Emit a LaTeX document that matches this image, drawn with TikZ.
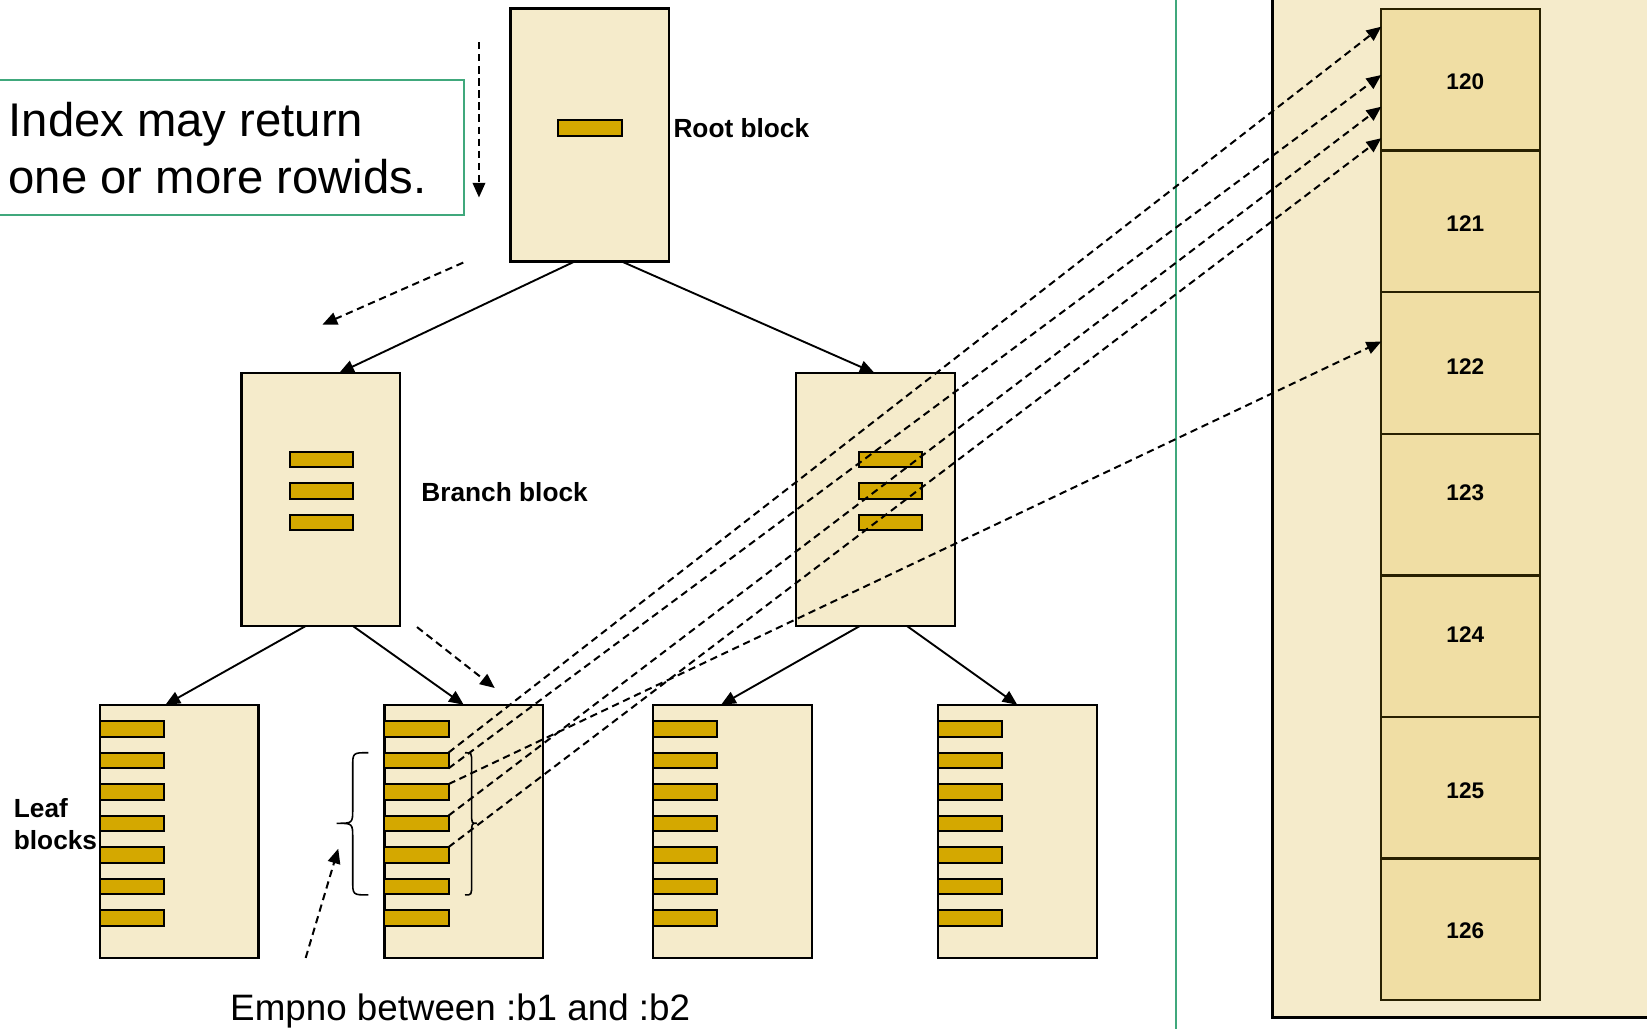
\documentclass[tikz,border=0pt]{standalone}
\usepackage{fontspec}
\setmainfont{Liberation Sans}
\usetikzlibrary{arrows.meta,calc}
\definecolor{cream}{RGB}{245,235,203}
\definecolor{gold}{RGB}{212,168,0}
\definecolor{cellc}{RGB}{240,222,164}
\definecolor{greenl}{RGB}{64,168,124}
\definecolor{celled}{RGB}{40,32,0}
\begin{document}
\begin{tikzpicture}[x=1pt,y=-1pt,
  blk/.style={draw=black, fill=cream, line width=2.1pt, minimum width=151pt, minimum height=241pt, inner sep=0pt, outer sep=0pt, anchor=north west},
  ent/.style={draw=black, fill=gold, line width=1.9pt, minimum width=61pt, minimum height=15pt, inner sep=0pt, outer sep=0pt, anchor=north west},
  cell/.style={draw=celled, fill=cellc, line width=2.2pt, minimum width=151pt, minimum height=134.8pt, inner sep=0pt, outer sep=0pt, anchor=north west},
  num/.style={font=\fontsize{21.5}{24}\selectfont\bfseries, inner sep=0pt},
  lbl/.style={font=\fontsize{25}{30}\selectfont\bfseries, inner sep=0pt, anchor=base west},
  edge/.style={draw=black, line width=1.8pt, -{Triangle[length=14pt,width=12pt]}},
  dsh/.style={draw=black, line width=1.9pt, dash pattern=on 7pt off 4.5pt, -{Triangle[length=14pt,width=12pt]}},
  brc/.style={draw=black, line width=1.5pt}
]
\useasboundingbox (0,0) rectangle (1568,980);
\fill[white] (0,0) rectangle (1568,980);

% note box and divider
\node[draw=greenl, line width=1.8pt, minimum width=446pt, minimum height=129pt, inner sep=0pt, anchor=north west] (note) at (-5,75) {};
\node[inner sep=0pt, anchor=base west, font=\fontsize{45}{54}\selectfont] (notea) at (8,130) {Index may return};
\node[inner sep=0pt, anchor=base west, font=\fontsize{45}{54}\selectfont] (noteb) at (8,184) {one or more rowids.};
\coordinate (dvt) at (1119.5,0);
\coordinate (dvb) at (1119.5,980);
\draw[greenl, line width=2pt] (dvt) -- (dvb);

% table store
\node[draw=black, fill=cream, line width=2.7pt, minimum width=420pt, minimum height=977pt, inner sep=0pt, anchor=north west] (store) at (1210,-10) {};
\foreach \n [count=\k from 0] in {120,121,122,123,124,125,126} {
  \node[cell] (c\n) at (1315,{8.6+134.8*\k}) {};
}
\node[num] (t120) at (1395,77.8) {120};
\node[num] (t121) at (1395,212.6) {121};
\node[num] (t122) at (1395,349) {122};
\node[num] (t123) at (1395,469) {123};
\node[num] (t124) at (1395,604) {124};
\node[num] (t125) at (1395,753) {125};
\node[num] (t126) at (1395,886) {126};

% blocks
\node[blk] (root) at (486,8) {};
\node[blk] (brL) at (230,355) {};
\node[blk] (brR) at (758,355) {};
\node[blk] (leaf1) at (95,671) {};
\node[blk] (leaf2) at (366,671) {};
\node[blk] (leaf3) at (622,671) {};
\node[blk] (leaf4) at (893,671) {};

% entries
\node[ent] (re) at (531,114) {};
\foreach \k in {1,2,3} {
  \node[ent, minimum width=60pt] (bl\k) at (276,{400+30*\k}) {};
  \node[ent, minimum width=60pt] (br\k) at (818,{400+30*\k}) {};
}
\foreach \L/\x in {1/95,2/366,3/622,4/893} {
  \foreach \k in {1,...,7} {
    \node[ent] (l\L e\k) at (\x,{656.5+30*\k}) {};
  }
}

% labels
\node[lbl] (lroot) at (641,131) {Root block};
\node[lbl] (lbranch) at (401,477) {Branch block};
\node[lbl] (lleafa) at (13,778) {Leaf};
\node[lbl] (lleafb) at (13,809) {blocks};
\node[inner sep=0pt, anchor=base west, font=\fontsize{35}{42}\selectfont] (empno) at (219,972) {Empno between :b1 and :b2};

% tree edges
\draw[edge] ([xshift=-14.5pt]root.south) -- ([xshift=17.5pt]brL.north);
\draw[edge] ([xshift=30.5pt]root.south) -- ([xshift=-1pt]brR.north);
\draw[edge] ([xshift=-14.5pt]brL.south) -- ([xshift=-13pt]leaf1.north);
\draw[edge] ([xshift=30.5pt]brL.south) -- (leaf2.north);
\draw[edge] ([xshift=-15pt]brR.south) -- ([xshift=-11pt]leaf3.north);
\draw[edge] ([xshift=30pt]brR.south) -- (leaf4.north);

% free dashed arrows
\coordinate (d1s) at (456,40);   \coordinate (d1e) at (456,188);
\coordinate (d2s) at (441,250);  \coordinate (d2e) at (307,309);
\coordinate (d3s) at (397,597);  \coordinate (d3e) at (471,655);
\coordinate (d4s) at (291,912);  \coordinate (d4e) at (322,808);
\draw[dsh] (d1s) -- (d1e);
\draw[dsh] (d2s) -- (d2e);
\draw[dsh] (d3s) -- (d3e);
\draw[dsh] (d4s) -- (d4e);

% braces
\draw[brc] (350.6,716.6) .. controls (335.8,716.6) .. (335.8,730) -- (335.8,770)
  .. controls (335.8,783.8) .. (320.5,783.8) .. controls (335.8,783.8) .. (335.8,798)
  -- (335.8,838) .. controls (335.8,852) .. (350.6,852);
\draw[brc] (442.7,716.6) .. controls (449,716.6) .. (449,726) -- (449,774)
  .. controls (449,783.8) .. (454,783.8) .. controls (449,783.8) .. (449,794)
  -- (449,842) .. controls (449,852) .. (442.7,852);

% rowid arrows
\draw[dsh] (l2e2.north east) -- ([yshift=-16.8pt]c120.north west);
\draw[dsh] (l2e2.south east) -- ([yshift=-62.8pt]c120.north west);
\draw[dsh] (l2e3.north east) -- ([yshift=-47pt]c122.north west);
\draw[dsh] (l2e4.north east) -- ([yshift=-93pt]c120.north west);
\draw[dsh] (l2e5.north east) -- ([yshift=-123pt]c120.north west);
\end{tikzpicture}
\end{document}
